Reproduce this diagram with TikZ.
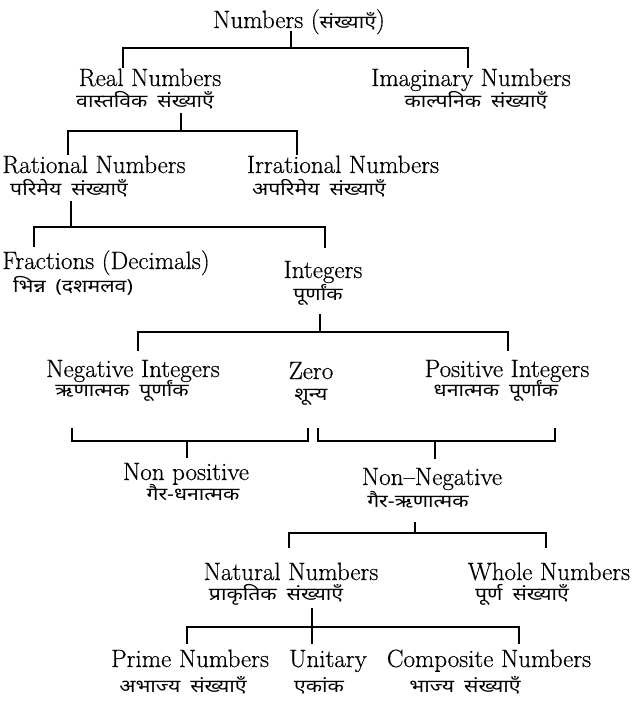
\documentclass[tikz,border=0pt]{standalone}
\usepackage{fontspec}
\newfontfamily\english{Latin Modern Roman}[Ligatures=TeX,FakeBold=0.5]
\newfontfamily\hindi[Script=Devanagari,FakeStretch=1.18,WordSpace=1.8]{Noto Sans}
\usetikzlibrary{positioning}

\begin{document}
\begin{tikzpicture}[x=1pt,y=-1pt,
        en/.style = {anchor=base, inner sep=3pt, text height=15pt, text depth=0pt, font=\fontsize{25}{29}\selectfont\english},
        hi/.style = {anchor=base, inner sep=2pt, text height=16pt, text depth=4pt, font=\fontsize{18}{22}\selectfont\hindi},
        link/.style = {line width=1.5pt},]
        \useasboundingbox (0,0) rectangle (632,702);

        \node[en] (numbers) at (299,28) {Numbers ({\hindi\fontsize{18}{22}\selectfont संख्याएँ})};

        \node[en] (real) at (150,86) {Real Numbers};
        \node[hi] (real-hi) at (145,107) {वास्तविक संख्याएँ};
        \node[en] (imag) at (471,86) {Imaginary Numbers};
        \node[hi] (imag-hi) at (476,107) {काल्पनिक संख्याएँ};

        \node[en] (rational) at (94,173) {Rational Numbers};
        \node[hi] (rational-hi) at (69,195) {परिमेय संख्याएँ};
        \node[en] (irrational) at (343,173) {Irrational Numbers};
        \node[hi] (irrational-hi) at (319,195) {अपरिमेय संख्याएँ};

        \node[en] (fractions) at (106,269) {Fractions (Decimals)};
        \node[hi] (fractions-hi) at (73,292) {भिन्न (दशमलव)};
        \node[en] (integers) at (323,278) {Integers};
        \node[hi] (integers-hi) at (318,300) {पूर्णांक};

        \node[en] (negative) at (133,377) {Negative Integers};
        \node[hi] (negative-hi) at (122,396) {ऋणात्मक पूर्णांक};
        \node[en] (zero) at (311,379) {Zero};
        \node[hi] (zero-hi) at (311,400) {शून्य};
        \node[en] (positive) at (507,377) {Positive Integers};
        \node[hi] (positive-hi) at (496,396) {धनात्मक पूर्णांक};

        \node[en] (nonpos) at (186,480) {Non positive};
        \node[hi] (nonpos-hi) at (193,500) {गैर-धनात्मक};
        \node[en] (nonneg) at (432,485) {Non--Negative};
        \node[hi] (nonneg-hi) at (418,507) {गैर-ऋणात्मक};

        \node[en] (natural) at (291,580) {Natural Numbers};
        \node[hi] (natural-hi) at (276,600) {प्राकृतिक संख्याएँ};
        \node[en] (whole) at (549,580) {Whole Numbers};
        \node[hi] (whole-hi) at (522,600) {पूर्ण संख्याएँ};

        \node[en] (prime) at (190,667) {Prime Numbers};
        \node[hi] (prime-hi) at (183,692) {अभाज्य संख्याएँ};
        \node[en] (unitary) at (328,667) {Unitary};
        \node[hi] (unitary-hi) at (319,692) {एकांक};
        \node[en] (composite) at (489,667) {Composite Numbers};
        \node[hi] (composite-hi) at (465,692) {भाज्य संख्याएँ};

        % branch points
        \coordinate (b1) at (291,48);
        \coordinate (b2) at (181,131);
        \coordinate (b3) at (71,227);
        \coordinate (b4) at (320,332);
        \coordinate (b5) at (187,441);
        \coordinate (b6) at (435,441);
        \coordinate (b7) at (415,533);
        \coordinate (b8) at (312,627);
        % free ends above the two lower brackets
        \coordinate (e1) at (72,428);
        \coordinate (e2) at (308,428);
        \coordinate (e3) at (318,428);
        \coordinate (e4) at (555,428);

        \draw[link] (numbers.south -| b1) -- (b1);
        \draw[link] ([xshift=-27pt]real.north) |- (b1) -| ([xshift=-3pt]imag.north);

        \draw[link] (real-hi.south -| b2) -- (b2);
        \draw[link] ([xshift=-26pt]rational.north) |- (b2) -| ([xshift=-46pt]irrational.north);

        \draw[link] (rational-hi.south -| b3) -- (b3);
        \draw[link] ([xshift=-72pt,yshift=4pt]fractions.north) |- (b3) -| ([xshift=2pt,yshift=12pt]integers.north);

        \draw[link] ([yshift=-8pt]integers-hi.south -| b4) -- (b4);
        \draw[link] ([xshift=5pt,yshift=8pt]negative.north) |- (b4) -| ([xshift=1pt,yshift=8pt]positive.north);

        \draw[link] (e1) |- (b5) -| (e2);
        \draw[link] (b5) -- ([yshift=4pt]nonpos.north -| b5);
        \draw[link] (e3) |- (b6) -| (e4);
        \draw[link] (b6) -- ([yshift=8pt]nonneg.north -| b6);

        \draw[link] ([yshift=-9pt]nonneg-hi.south -| b7) -- (b7);
        \draw[link] ([xshift=-2pt,yshift=14pt]natural.north) |- (b7) -| ([xshift=-3pt,yshift=14pt]whole.north);

        \draw[link] ([yshift=-2pt]natural-hi.south -| b8) -- ([yshift=5pt]unitary.north -| b8);
        \draw[link] ([xshift=-3pt,yshift=5pt]prime.north) |- (b8) -| ([xshift=30pt,yshift=5pt]composite.north);
    \end{tikzpicture}
\end{document}
